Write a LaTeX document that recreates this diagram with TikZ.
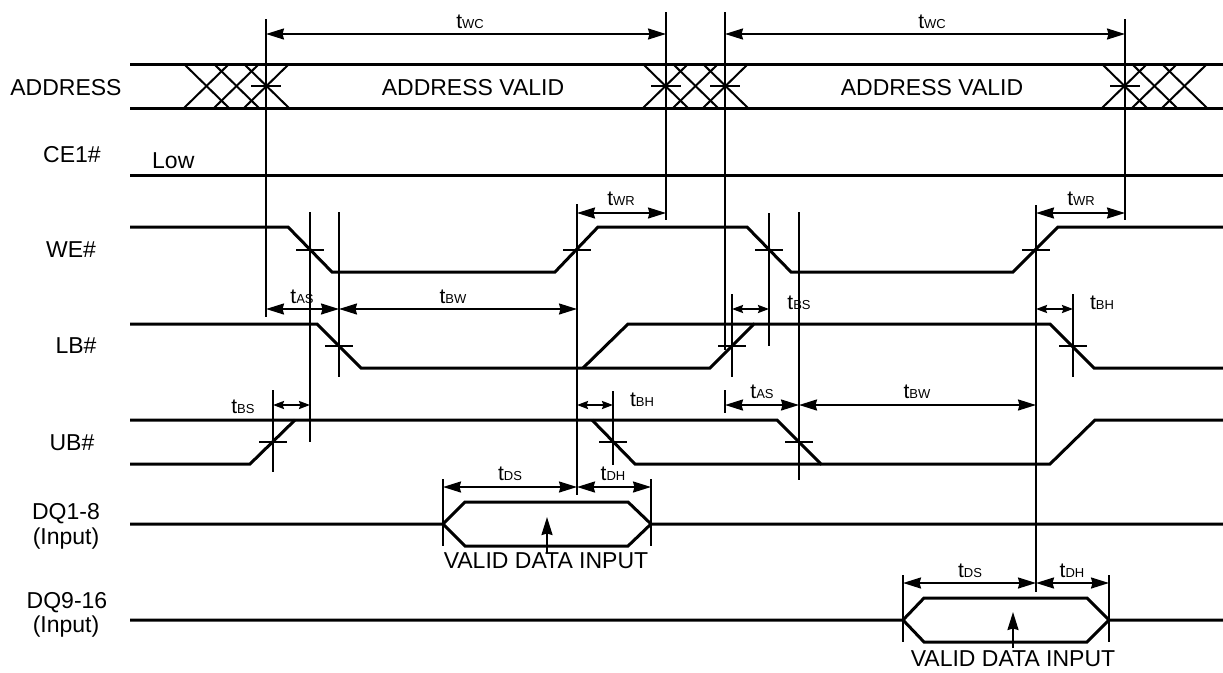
\documentclass[tikz,border=0pt]{standalone}
\usepackage{fontspec}
\setmainfont{Liberation Sans}
\usetikzlibrary{arrows.meta}
\newcommand\tm[1]{{\fontsize{21}{24}\selectfont t}{\fontsize{13}{15}\selectfont #1}}
\begin{document}
\begin{tikzpicture}[x=1pt,y=-1pt,
 sig/.style={line width=3pt},
 thinline/.style={line width=2pt},
 dimL/.style={line width=2pt,{Stealth[length=18pt,width=11pt,inset=1.5pt]}-{Stealth[length=18pt,width=11pt,inset=1.5pt]}},
 dimS/.style={line width=2pt,{Stealth[length=11pt,width=8pt,inset=1.5pt]}-{Stealth[length=11pt,width=8pt,inset=1.5pt]}},
 uparrow/.style={line width=2pt,-{Stealth[length=18pt,width=11pt,inset=1.5pt]}},
 lbl/.style={font=\fontsize{23}{26}\selectfont, anchor=base, inner sep=0pt},
 tl/.style={anchor=base, inner sep=0pt},
]
\useasboundingbox (0,0) rectangle (1223,672);

% ---------- left labels ----------
\node[lbl] (lADDR) at (66,95) {ADDRESS};
\node[lbl] (lCE) at (72,162) {CE1\#};
\node[lbl] (lWE) at (71,257) {WE\#};
\node[lbl] (lLB) at (76,353) {LB\#};
\node[lbl] (lUB) at (72,450) {UB\#};
\node[lbl] (lDQa) at (66,519) {DQ1-8};
\node[lbl] (lDQai) at (66,544) {(Input)};
\node[lbl] (lDQb) at (67,608) {DQ9-16};
\node[lbl] (lDQbi) at (66,632) {(Input)};

% ---------- ADDRESS ----------
\draw[sig] (130,64) -- (1223,64);
\draw[sig] (130,108) -- (1223,108);
\foreach \s in {184,214,244,643,673,703,1102,1132,1162}{
  \draw[thinline] (\s,64) -- (\s+45,108);
  \draw[thinline] (\s,108) -- (\s+45,64);
}
\foreach \x in {266,666,725,1125}{\draw[thinline] (\x-15,86) -- (\x+15,86);}
\node[lbl] (av1) at (473,95) {ADDRESS VALID};
\node[lbl] (av2) at (932,95) {ADDRESS VALID};

% ---------- CE1# ----------
\draw[sig] (130,175) -- (1223,175);
\node[lbl,anchor=base west] (low) at (152,168) {Low};

% ---------- WE# ----------
\draw[sig] (130,227) -- (288,227) -- (332,272) -- (555,272) -- (598,227) -- (747,227) -- (791,272) -- (1013,272) -- (1058,227) -- (1223,227);
\foreach \x in {310,577,769,1036}{\draw[thinline] (\x-14,250) -- (\x+14,250);}

% ---------- LB# ----------
\draw[sig] (130,324) -- (317,324) -- (361,368) -- (710,368) -- (754,324) -- (1050,324) -- (1094,368) -- (1223,368);
\draw[sig] (583,368) -- (628,324) -- (754,324);
\foreach \x in {339,732,1073}{\draw[thinline] (\x-14,346) -- (\x+14,346);}

% ---------- UB# ----------
\draw[sig] (130,420) -- (777,420) -- (821,464) -- (1050,464) -- (1095,420) -- (1223,420);
\draw[sig] (130,464) -- (250,464) -- (295,420);
\draw[sig] (592,420) -- (635,464) -- (821,464);
\foreach \x in {273,613,799}{\draw[thinline] (\x-14,442) -- (\x+14,442);}

% ---------- DQ1-8 ----------
\draw[sig] (130,524) -- (443,524) -- (465,502) -- (628,502) -- (651,524) -- (1223,524);
\draw[sig] (443,524) -- (465,546) -- (628,546) -- (651,524);
\node[lbl] (vd1) at (546,568) {VALID DATA INPUT};
\coordinate (vd1tip) at (547,517);
\draw[uparrow] (547,553) -- (vd1tip);

% ---------- DQ9-16 ----------
\draw[sig] (130,620) -- (903,620) -- (924,598) -- (1087,598) -- (1109,620) -- (1223,620);
\draw[sig] (903,620) -- (924,642) -- (1087,642) -- (1109,620);
\node[lbl] (vd2) at (1013,666) {VALID DATA INPUT};
\coordinate (vd2tip) at (1013,612);
\draw[uparrow] (1013,648) -- (vd2tip);

% ---------- vertical reference lines ----------
\draw[thinline] (266,19) -- (266,317);
\draw[thinline] (666,12) -- (666,220);
\draw[thinline] (725,12) -- (725,350);
\draw[thinline] (725,390) -- (725,413);
\draw[thinline] (1125,19) -- (1125,220);
\draw[thinline] (310,212) -- (310,442);
\draw[thinline] (339,212) -- (339,377);
\draw[thinline] (577,204) -- (577,495);
\draw[thinline] (769,213) -- (769,346);
\draw[thinline] (799,212) -- (799,480);
\draw[thinline] (1036,205) -- (1036,592);
\draw[thinline] (732,294) -- (732,377);
\draw[thinline] (1073,294) -- (1073,377);
\draw[thinline] (273,390) -- (273,472);
\draw[thinline] (613,391) -- (613,465);
\draw[thinline] (443,479) -- (443,546);
\draw[thinline] (651,479) -- (651,546);
\draw[thinline] (903,575) -- (903,642);
\draw[thinline] (1109,575) -- (1109,642);

% ---------- dimension arrows ----------
\draw[dimL] (266,34) -- (666,34);
\draw[dimL] (725,34) -- (1125,34);
\draw[dimL] (577,213) -- (666,213);
\draw[dimL] (1036,213) -- (1125,213);
\draw[dimL] (266,309) -- (339,309);
\draw[dimL] (339,309) -- (577,309);
\draw[dimS] (732,309) -- (769,309);
\draw[dimS] (1036,309) -- (1073,309);
\draw[dimS] (273,405) -- (310,405);
\draw[dimS] (577,405) -- (613,405);
\draw[dimL] (725,405) -- (799,405);
\draw[dimL] (799,405) -- (1036,405);
\draw[dimL] (443,487) -- (577,487);
\draw[dimL] (577,487) -- (651,487);
\draw[dimL] (903,583) -- (1036,583);
\draw[dimL] (1036,583) -- (1109,583);

% ---------- timing labels ----------
\node[tl] (twc1) at (470,28) {\tm{WC}};
\node[tl] (twc2) at (932,28) {\tm{WC}};
\node[tl] (twr1) at (621,205) {\tm{WR}};
\node[tl] (twr2) at (1081,205) {\tm{WR}};
\node[tl] (tas1) at (302,303) {\tm{AS}};
\node[tl] (tbw1) at (453,303) {\tm{BW}};
\node[tl] (tbs1) at (799,309) {\tm{BS}};
\node[tl] (tbh1) at (1102,309) {\tm{BH}};
\node[tl] (tbs2) at (243,413) {\tm{BS}};
\node[tl] (tbh2) at (642,406) {\tm{BH}};
\node[tl] (tas2) at (762,398) {\tm{AS}};
\node[tl] (tbw2) at (917,398) {\tm{BW}};
\node[tl] (tds1) at (510,480) {\tm{DS}};
\node[tl] (tdh1) at (613,480) {\tm{DH}};
\node[tl] (tds2) at (970,577) {\tm{DS}};
\node[tl] (tdh2) at (1072,577) {\tm{DH}};
\end{tikzpicture}
\end{document}
